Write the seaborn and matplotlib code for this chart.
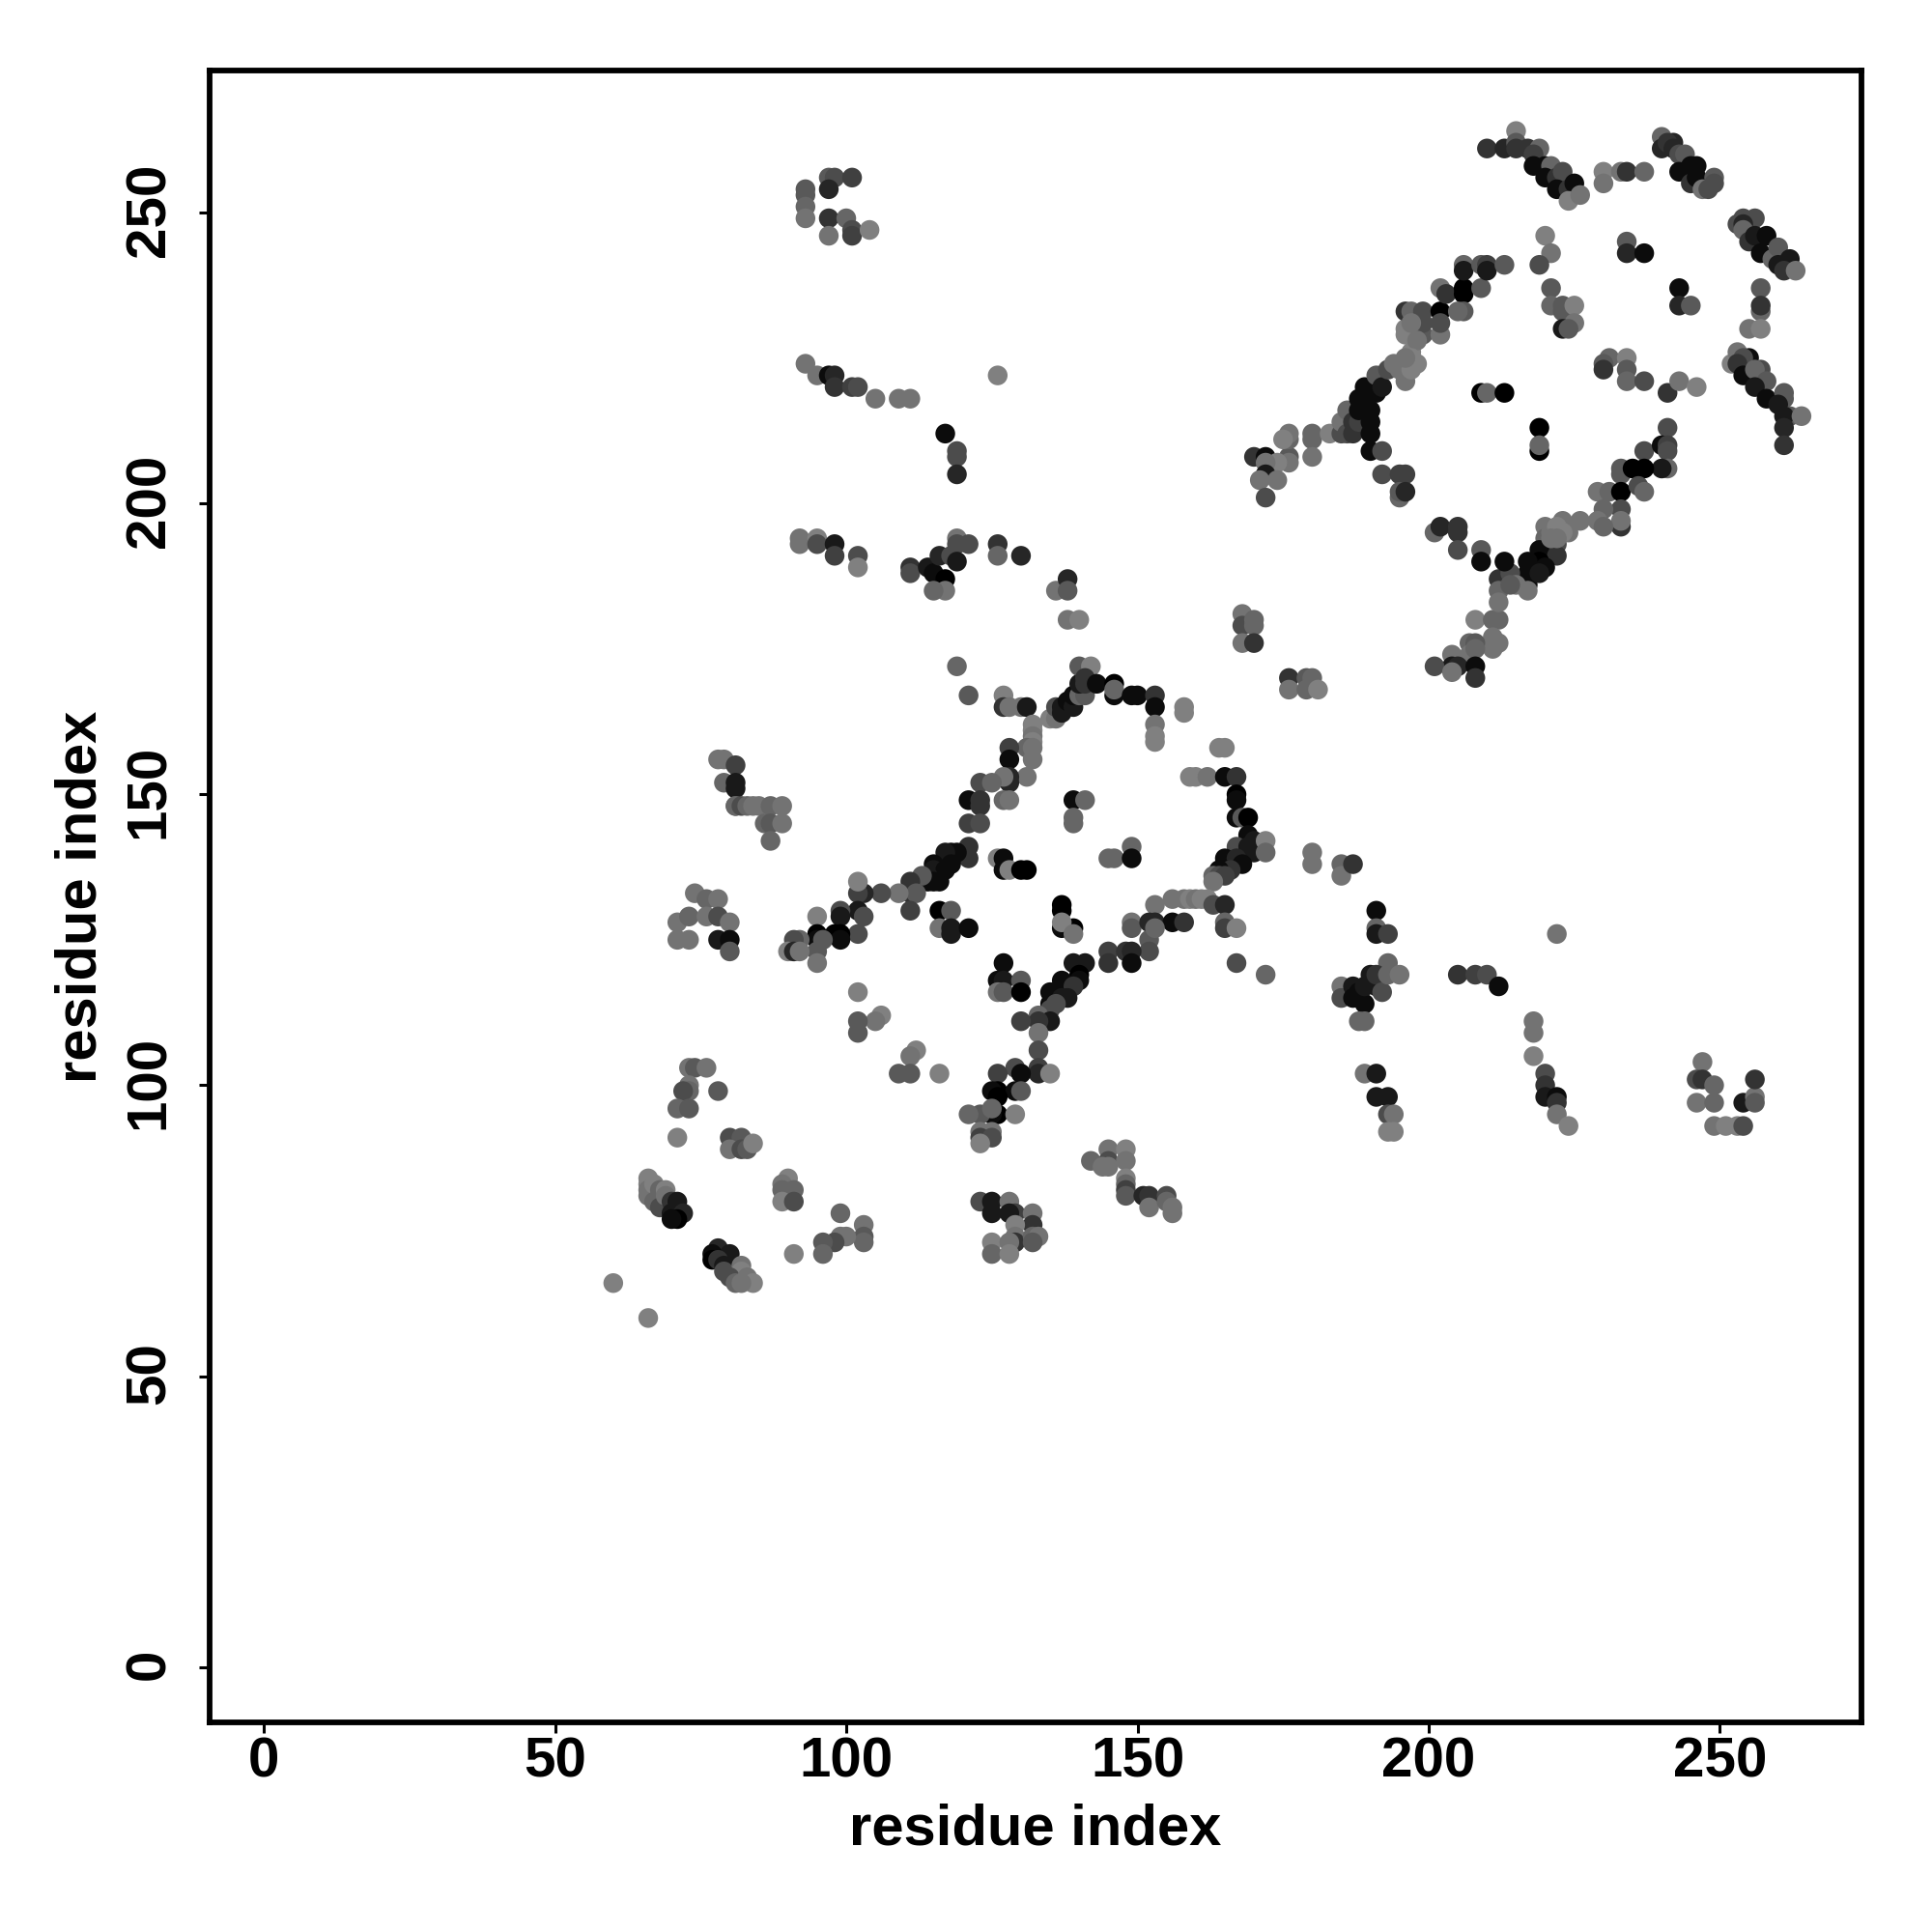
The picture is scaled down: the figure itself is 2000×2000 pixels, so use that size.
import pandas as pd
import seaborn as sns
import matplotlib
matplotlib.use("Agg")
import matplotlib.pyplot as plt
from matplotlib.transforms import ScaledTranslation

# contacts, grouped by region: residue i, residue j, grey level
top_x = [210,213,215,215,215,217,219,218,218,220,221,220,222,223,222,224,225,224,226, 230,230,233,234,237, 240,240,242,241,242,243,244,243,245,246,245,246,247,248,249,249]
top_y = [261,261,264,262,261,261,261,260,258,258,258,256,256,257,254,254,255,252,253, 257,255,257,257,257, 263,261,262,262,261,260,260,257,258,258,255,256,254,254,256,255]
top_g = [.2,.15,.5,.35,.2,.2,.4,.25,.05,.05,.4,.05,.2,.3,.05,.2,.05,.5,.45, .5,.45,.45,.2,.4, .4,.15,.15,.2,.15,.3,.35,.05,.05,.05,.2,.05,.45,.3,.35,.3]

right_x = [253,254,256,254,254,255,256,258,257,259,260,262,260,261,263, 257,257,257,255,257, 252,253,255,254,253,254,257,256,258,256,258,261,261,260,262,261,261,261,264]
right_y = [248,249,249,248,247,245,246,246,243,242,244,242,241,240,240, 237,233,234,230,230, 224,226,225,225,224,222,223,223,221,220,218,219,218,217,215,215,213,210,215]
right_g = [.3,.3,.3,.15,.4,.2,.1,.05,.05,.4,.35,.1,.1,.2,.45, .35,.4,.2,.45,.5, .5,.45,.05,.3,.2,.05,.3,.4,.35,.1,.05,.35,.35,.1,.35,.1,.15,.2,.45]

inner_x = [220,221,219,234,234,237,243,243,245,221,221,223,223,225,225,223,224, 231,230,230,234,234,234,237,241,243,246, 209,210,213,219,219,219, 168,168,170,170,168,170, 176,176,179,180,179,181, 208,211,212,211,212,211,207,208,207,208,204,204,201,205,204,208,208]
inner_y = [246,243,241,245,243,243,237,234,234,237,234,234,233,234,231,230,230, 225,224,223,225,223,221,221,219,221,220, 219,219,219,213,209,210, 181,179,180,179,176,176, 170,168,170,170,168,168, 180,180,180,177,176,175,176,176,174,175,174,172,172,172,171,172,170]
inner_g = [.5,.45,.3,.35,.15,.05,.05,.15,.35,.35,.4,.35,.35,.5,.45,.1,.35, .4,.35,.2,.5,.35,.4,.3,.2,.45,.5, 0,.4,0,0,0,.4, .45,.3,.4,.4,.45,.2, .2,.45,.35,.4,.4,.5, .5,.4,.4,.45,.45,.45,.4,.35,.45,.4,.45,.1,.3,.15,.45,.05,.2]

diag1_x = [170,172,176,176,176,175,176,174,172,172,171,174,172, 180,180,180,183,185,185,186,186,187,187,188,188,189,188,190,190,190,190,192,192,195,196,195,195,196, 189,191,191,192,193,194,195,196,197,197,196,196,197,199,199,199,202,202,202,202,203,206,206,206,205,209,206,206,209,210,210,213, 196,197,198,197,198,196]
diag1_y = [208,208,208,211,212,211,207,207,207,205,204,204,201, 212,211,208,212,212,214,216,212,212,214,214,216,217,218,216,214,212,209,209,205,205,205,201,202,202, 220,219,222,220,223,224,223,221,223,226,230,233,233,233,229,231,229,233,231,237,236,237,236,233,233,237,241,240,241,241,240,241, 229,231,228,225,224,225]
diag1_g = [.2,.05,.35,.4,.45,.5,.45,.5,.45,.1,.45,.45,.3, .4,.4,.45,.5,.3,.45,.4,.3,.2,.2,.25,.05,.05,.05,.05,.05,.05,.05,.3,.3,.25,.25,.4,.35,.15, .05,.05,.35,.1,.3,.45,.45,.45,.5,.5,.5,.2,.4,.3,.35,.3,.45,0,.3,.45,.2,0,0,.35,.4,.35,.4,.1,.35,.25,.1,.35, .5,.45,.45,.5,.5,.45]

diag2_x = [241,237,240,241,241,241,240,233,233,235,237,229,231,233,236,237,233,233,230,233,229,230,226,223,224,220,220,222,220,219,222,219,217,220,217,217,219,212,212,212,214,215,217,214,213,209,209, 201,202,205,205,205, 221,222,221,223,222]
diag2_y = [213,209,210,210,209,206,206,206,205,206,206,202,202,202,203,202,199,196,199,197,197,196,197,197,195,196,194,193,191,192,191,190,190,189,188,186,188,187,185,183,188,186,185,186,190,192,190, 195,196,196,195,192, 195,196,194,195,194]
diag2_g = [.3,.3,.05,.25,.3,.4,.1,.35,.35,0,0,.45,.4,0,.3,.4,.3,.2,.4,.45,.45,.4,.45,.45,.45,.45,.4,.3,.2,.05,.2,0,.05,.05,.05,.05,.1,.2,.4,.45,.3,.45,.45,.35,.05,.35,.05, .4,.15,.2,.2,.3, .45,.5,.45,.5,.45]

ring_top_x = [119,121,127,127,128,130,131,132,132,132,132,131,132,132,128,128,131,128,128,127,123,125, 121,123,123,121,123,127,128, 139,141,139,139, 135,136,136,137,137,138,139,139,140,141,140,141,140,142,141,143,146,146,146,149,150,153,153,153,153,153,158,158, 164,165]
ring_top_y = [172,167,167,165,165,165,165,162,161,160,159,158,158,156,158,156,153,153,152,153,152,152, 149,149,148,145,145,149,149, 149,149,146,145, 163,163,165,165,164,166,165,167,167,167,169,169,172,172,170,169,169,167,168,167,167,167,165,162,160,159,165,164, 158,158]
ring_top_g = [.4,.35,.5,.2,.45,.45,.1,.5,.5,.45,.5,.4,.45,.45,.25,.05,.45,.15,.15,.45,.3,.4, .05,.2,.2,.25,.3,.4,.45, .05,.4,.4,.4, .5,.45,.3,.1,.1,.05,.1,.05,.4,.35,.1,.2,.35,.5,.2,.05,0,.05,.4,.05,.05,.2,.05,.45,.5,.5,.5,.5, .5,.5]

ring_right_x = [159,160,162,165,167,167,167,167,168,169, 169,167,169,170,170,172,172, 165,167,168,165,166,164,163,164,165,163, 156,158,159,160,161,162,163,165,153,149,149,152,153,156,158,165,165,167,152,152,153, 167,172, 145,145,148,149,149, 137,137,139,137,137,139, 145,146,149,149]
ring_right_y = [153,153,153,153,153,150,149,146,146,146, 143,141,141,142,140,142,140, 139,139,138,137,137,137,136,136,136,135, 132,132,132,132,132,132,131,131,131,128,127,128,128,128,128,128,127,127,125,123,127, 121,119, 123,121,123,123,121, 131,130,127,127,128,126, 139,139,141,139]
ring_right_g = [.5,.5,.45,.05,.2,0,.05,.05,.35,0, .05,.3,.1,.1,.1,.5,.4, .05,.15,.05,.05,.2,.05,.4,.3,.25,.45, .45,.45,.5,.45,.5,.5,.3,.15,.45,.45,.35,.15,.15,.05,.2,.4,.25,.5,.35,.3,.4, .3,.4, .25,.2,.2,.15,.05, 0,0,0,.05,.5,.45, .4,.4,.4,.05]

ring_left_x = [126,127,127,128,130,131, 121,121,119,118,117,118,115,115,117,114,115,114,116,113,111,111,112,109,106,103,102,102,102,103,102,99,99,98,99,99,95,95,95,96,95,95,92,91,90,91,92, 111,116,118,116,118,118,121]
ring_left_y = [139,139,137,137,137,137, 141,139,140,140,140,138,138,137,137,136,135,135,135,136,135,133,133,133,133,133,133,135,130,129,126,130,129,126,126,125,129,126,125,125,123,121,125,125,123,123,123, 130,130,130,127,127,126,127]
ring_left_g = [.5,.05,.05,.5,0,0, .2,.2,.05,.05,.1,.05,.05,.1,.05,.1,.05,.05,.05,.35,.2,.2,.35,.45,.3,.15,.25,.5,.1,.3,.3,.3,.1,0,0,.05,.5,0,.05,.35,.35,.45,.4,.3,.5,.15,.45, .25,0,.35,.45,.1,.1,.05]

ring_low_x = [127,126,127,130,126,127,130, 139,141,140,137,140,137,139,138,135,137,135,136,135,133,135,133,130,133,133,133,133,135,129,130,126, 126,125,129,130,126, 126,125,123,121,129,125,123,125,123,125,123, 102,106,105,102,102,112,111,109,111,116]
ring_low_y = [121,118,118,118,116,116,116, 121,121,119,118,118,117,117,115,116,115,114,114,113,112,111,111,111,109,106,103,102,102,103,102,102, 99,99,99,99,98, 95,95,95,95,95,96,92,92,91,91,90, 116,112,111,111,109,106,105,102,102,102]
ring_low_g = [.05,.05,.1,.35,.45,.35,0, .1,.1,0,.05,.05,.05,.2,.1,.05,.1,.05,.3,.3,.4,.1,.2,.25,.45,.3,.25,.15,.5,.3,.05,.25, 0,.05,.05,.35,0, 0,.05,.35,.4,.5,.4,.45,.45,.25,.3,.5, .5,.5,.45,.35,.35,.5,.45,.35,.35,.5]

low_x = [145,148,142,145,144,145,148,148,148,148,148,151,152,155,152,155,156,156, 123,125,125,128,129,128,132,132,129,129,129,132,133,132,125,128,125,128]
low_y = [89,89,87,87,86,86,87,84,83,82,81,81,81,81,79,80,79,78, 80,80,78,80,78,78,78,76,76,74,73,74,74,73,73,73,71,71]
low_g = [.45,.5,.4,.3,.45,.45,.45,.5,.4,.25,.35,.15,.2,.3,.45,.4,.45,.45, .3,.1,.1,.45,.25,.1,.45,.2,.5,.45,.2,.4,.45,.35,.5,.45,.4,.5]

corner_x = [60,66, 73,74,76,78,73,73,72,71,73,71, 80,82,80,82,83,84, 66,66,66,66,67,67,68,68,69,69,70,71,70,72,71,70, 78,80,77,77,78,79,79,82,82,80,81,83,84,82, 90,89,89,91,89,91,91, 99,103,103,103,99,100,98,96,96]
corner_y = [66,60, 103,103,103,99,100,99,99,96,96,91, 91,91,89,89,89,90, 84,83,82,81,83,80,82,79,82,81,80,80,78,78,77,77, 72,71,71,70,70,69,68,69,68,67,66,67,66,66, 84,83,82,82,80,80,71, 78,76,74,73,74,74,73,73,71]
corner_g = [.5,.5, .45,.35,.45,.35,.45,.4,.3,.4,.35,.5, .3,.35,.45,.3,.35,.5, .5,.5,.45,.45,.5,.4,.4,.3,.5,.45,.2,.1,.1,.15,0,.05, .15,.1,.05,0,.2,.1,.3,.45,.5,.3,.4,.45,.5,.45, .5,.45,.4,.4,.5,.3,.5, .4,.45,.35,.4,.45,.45,.3,.35,.4]

upper_left_x = [93,93,93,93,97,98,101,97,97,97,100,101,101,104, 93,95,97,98,98,101,102,105,109,111,126, 117,119,119,119, 92,92,95,95,98,98,102,102, 111,111,114,115,116,117,117,115,118,119,119,121,119,126,126,130, 136,138,138,138,140]
upper_left_y = [254,253,251,249,256,256,256,254,249,246,249,247,246,247, 224,222,222,222,220,220,220,218,218,218,222, 212,209,208,205, 194,193,194,193,193,191,191,189, 189,188,189,188,191,187,185,185,191,194,193,193,190,193,191,191, 185,187,185,180,180]
upper_left_g = [.35,.35,.4,.45,.35,.3,.25,.15,.2,.45,.4,.3,.25,.5, .45,.45,.05,.15,.2,.25,.3,.45,.45,.45,.5, .05,.3,.3,.15, .45,.45,.5,.3,.1,.25,.3,.5, .2,.3,.1,.05,.15,0,.45,.4,.3,.45,.3,.3,.1,.2,.4,.15, .45,.15,.35,.45,.5]

left_x = [78,79,81,79,81,81,81,81,82,83,84,85,87,89,86,87,89,87, 71,71,73,73,74,76,76,78,78,78,80,80,80]
left_y = [156,156,155,152,152,151,148,148,148,148,148,148,148,148,145,145,145,142, 128,125,129,125,133,132,129,132,129,125,128,125,123]
left_g = [.45,.45,.25,.4,.1,.1,.3,.4,.3,.4,.45,.45,.4,.45,.4,.35,.45,.4, .45,.45,.4,.45,.45,.4,.45,.45,.3,.1,.45,.05,.35]

far_x = [180,180,185,185,187, 191,191,191,193,193,193, 185,185,187,187,188,189,189,188,189,190,191,191,192,193,195, 205,208,210,212,222, 218,218,218, 189,191,191,193,193,194,193,194, 220,220,220,222,222,222,224, 247,246,247,249,246,249,249,251,253,254,254,256,256,256]
far_y = [140,138,138,136,138, 130,127,126,126,121,120, 117,115,117,115,116,114,117,111,111,119,117,119,116,119,119, 119,119,119,117,126, 111,109,105, 102,102,98,98,95,95,92,92, 102,100,98,98,97,95,93, 104,101,101,100,97,97,93,93,93,93,97,98,97,101]
far_g = [.45,.45,.4,.45,.2, .05,.4,.1,.25,.4,.4, .45,.3,.1,.05,.05,.05,.1,.4,.4,.1,.1,.2,.3,.4,.45, .2,.25,.3,.05,.45, .45,.45,.5, .45,.1,.1,.1,.3,.45,.5,.5, .3,.2,.1,.05,.2,.45,.5, .45,.3,.2,.4,.45,.4,.45,.5,.5,.3,.1,.45,.35,.2]

regions = [
    (top_x, top_y, top_g), (right_x, right_y, right_g), (inner_x, inner_y, inner_g),
    (diag1_x, diag1_y, diag1_g), (diag2_x, diag2_y, diag2_g),
    (ring_top_x, ring_top_y, ring_top_g), (ring_right_x, ring_right_y, ring_right_g),
    (ring_left_x, ring_left_y, ring_left_g), (ring_low_x, ring_low_y, ring_low_g),
    (low_x, low_y, low_g), (corner_x, corner_y, corner_g),
    (upper_left_x, upper_left_y, upper_left_g), (left_x, left_y, left_g), (far_x, far_y, far_g),
]

# build the table, check the hand typed lists line up
frames = []
for n, (xs, ys, gs) in enumerate(regions):
    if not len(xs) == len(ys) == len(gs):
        raise ValueError(f"region {n}: {len(xs)} {len(ys)} {len(gs)}")
    frames.append(pd.DataFrame({"i": xs, "j": ys, "grey": gs}))
df = pd.concat(frames, ignore_index=True)

sns.set_style("white")
plt.rcParams["font.family"] = ["Liberation Sans", "DejaVu Sans"]
plt.rcParams["font.weight"] = "bold"
plt.rcParams["text.color"] = "black"
plt.rcParams["axes.labelcolor"] = "black"
plt.rcParams["xtick.color"] = "black"
plt.rcParams["ytick.color"] = "black"

fig = plt.figure(figsize=(10, 10), dpi=200)
ax = fig.add_axes([217 / 2000, 1 - 1783 / 2000, 1710 / 2000, 1710 / 2000])

sns.scatterplot(data=df, x="i", y="j", hue="grey", palette="gray", hue_norm=(0, 1),
                s=54, linewidth=0, legend=False, ax=ax)

ax.set_xlim(-9.3, 274.3)
ax.set_ylim(-9.5, 274.4)
ax.set_xticks([0, 50, 100, 150, 200, 250])
ax.set_yticks([0, 50, 100, 150, 200, 250])
ax.tick_params(axis="x", bottom=True, length=4, width=1.1, labelsize=21, pad=1.2)
ax.tick_params(axis="y", left=True, length=4, width=1.1, labelsize=21, pad=8.5)
plt.setp(ax.get_yticklabels(), rotation=90, va="center")
# rotated labels sit a little low, nudge them up
nudge = ScaledTranslation(0, 3 / 200, fig.dpi_scale_trans)
for lab in ax.get_yticklabels():
    lab.set_transform(lab.get_transform() + nudge)
ax.set_xlabel("residue index", fontsize=21.5, fontweight="bold", labelpad=5.5)
ax.set_ylabel("residue index", fontsize=21.5, fontweight="bold", labelpad=6)
for s in ax.spines.values():
    s.set_linewidth(2.1)
    s.set_color("black")

fig.savefig("out.png", dpi=200)
